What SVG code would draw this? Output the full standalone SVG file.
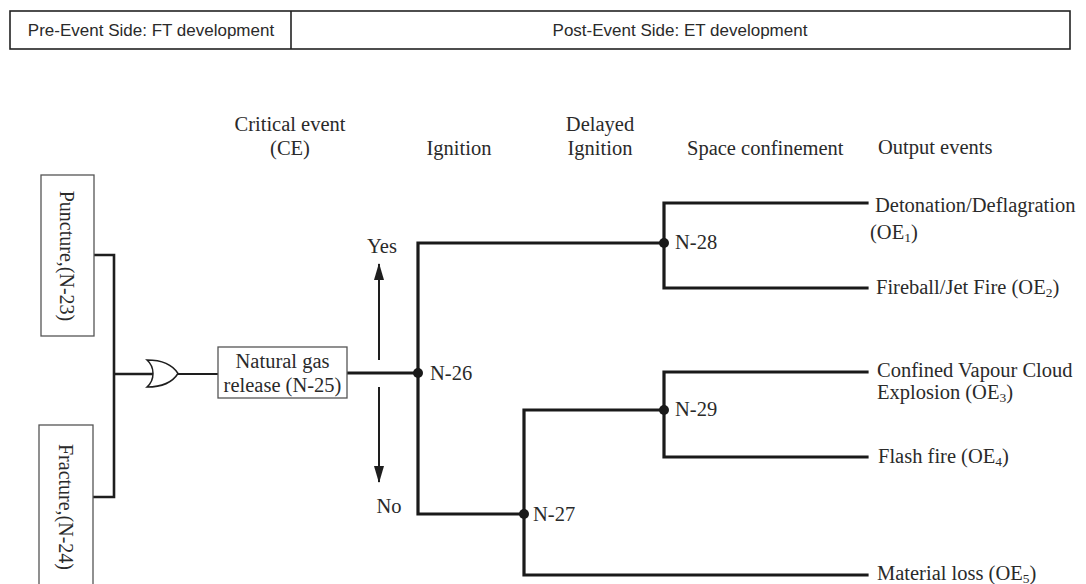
<svg xmlns="http://www.w3.org/2000/svg" width="1086" height="584" viewBox="0 0 1086 584">
  <defs>
    <style>
      .hdr { font-family: "Liberation Sans", Arial, sans-serif; font-size: 17px; fill: #2a2a2a; }
      .t { font-family: "Liberation Serif", "Times New Roman", serif; font-size: 20.5px; fill: #2a2a2a; }
      .sub { font-size: 13.5px; }
      .box { fill: #fff; stroke: #555; stroke-width: 1.3; }
      .frame { fill: none; stroke: #222; stroke-width: 1.6; }
      .link { fill: none; stroke: #1e1e1e; stroke-width: 2.6; }
      .thin { fill: none; stroke: #1e1e1e; stroke-width: 2; }
      .tree { fill: none; stroke: #1a1a1a; stroke-width: 3.2; stroke-linejoin: miter; stroke-linecap: square; }
      .dot { fill: #1a1a1a; }
      .arr { stroke: #1e1e1e; stroke-width: 2; }
    </style>
    <marker id="head" viewBox="0 0 17 10" refX="16" refY="5" markerWidth="17" markerHeight="10" markerUnits="userSpaceOnUse" orient="auto">
      <path d="M0,0 L17,5 L0,10 Z" fill="#1e1e1e"/>
    </marker>
  </defs>

  <!-- header strip -->
  <g id="header">
    <rect class="frame" x="10" y="11" width="1060" height="38"/>
    <line class="frame" x1="291" y1="11" x2="291" y2="49"/>
    <text class="hdr" x="151" y="36" text-anchor="middle">Pre-Event Side: FT development</text>
    <text class="hdr" x="680" y="36" text-anchor="middle">Post-Event Side: ET development</text>
  </g>

  <!-- column headings -->
  <g id="columns" class="t">
    <text x="290" y="131" text-anchor="middle">Critical event</text>
    <text x="290" y="155" text-anchor="middle">(CE)</text>
    <text x="459" y="155" text-anchor="middle">Ignition</text>
    <text x="600" y="131" text-anchor="middle">Delayed</text>
    <text x="600" y="155" text-anchor="middle">Ignition</text>
    <text x="687" y="155">Space confinement</text>
    <text x="878" y="154">Output events</text>
  </g>

  <!-- connectors -->
  <g id="connectors">
    <path class="link" d="M94,255 H114 V497 H93"/>
    <line class="link" x1="114" y1="374" x2="153" y2="374"/>
    <line class="thin" x1="178" y1="374" x2="218" y2="374"/>
    <line class="tree" x1="347" y1="373" x2="418" y2="373"/>
    <!-- ignition branch -->
    <path class="tree" d="M664,243 H418 V514 H524"/>
    <!-- confinement after ignition -->
    <path class="tree" d="M867,203 H664 V288 H867"/>
    <!-- delayed ignition branch -->
    <path class="tree" d="M664,410 H524 V575 H867"/>
    <!-- confinement after delayed ignition -->
    <path class="tree" d="M867,372 H664 V457 H867"/>
    <!-- yes / no arrows -->
    <line class="arr" x1="379" y1="360" x2="379" y2="264" marker-end="url(#head)"/>
    <line class="arr" x1="379" y1="387" x2="379" y2="482" marker-end="url(#head)"/>
  </g>

  <g id="or-gate">
    <path d="M147,360 C160,360 172,364 178,373.5 C172,383 160,387 147,387 C155,380 155,367 147,360 Z" fill="#fff" stroke="#1e1e1e" stroke-width="1.5"/>
  </g>

  <g id="n23">
    <rect class="box" x="41" y="175" width="53" height="161"/>
    <text class="t" transform="translate(67,256) rotate(90)" text-anchor="middle" dominant-baseline="central" style="font-size:20px">Puncture,(N-23)</text>
  </g>

  <g id="n24">
    <rect class="box" x="39" y="425" width="54" height="170"/>
    <text class="t" transform="translate(66,507) rotate(90)" text-anchor="middle" dominant-baseline="central" style="font-size:20px">Fracture,(N-24)</text>
  </g>

  <g id="n25">
    <rect class="box" x="218" y="347" width="129" height="51"/>
    <text class="t" x="282.5" y="368" text-anchor="middle">Natural gas</text>
    <text class="t" x="282.5" y="392" text-anchor="middle">release (N-25)</text>
  </g>

  <g id="n26">
    <circle class="dot" cx="418" cy="373" r="5"/>
    <text class="t" x="430" y="380">N-26</text>
    <text class="t" x="382" y="253" text-anchor="middle">Yes</text>
    <text class="t" x="389" y="513" text-anchor="middle">No</text>
  </g>

  <g id="n27">
    <circle class="dot" cx="524" cy="514" r="5"/>
    <text class="t" x="533" y="521">N-27</text>
  </g>

  <g id="n28">
    <circle class="dot" cx="664" cy="243" r="5"/>
    <text class="t" x="675" y="249">N-28</text>
  </g>

  <g id="n29">
    <circle class="dot" cx="664" cy="410" r="5"/>
    <text class="t" x="675" y="416">N-29</text>
  </g>

  <g id="oe1" class="t">
    <text x="875" y="212">Detonation/Deflagration</text>
    <text x="870" y="239">(OE<tspan class="sub" dy="3">1</tspan><tspan dy="-3">)</tspan></text>
  </g>
  <g id="oe2" class="t">
    <text x="876" y="294">Fireball/Jet Fire (OE<tspan class="sub" dy="3">2</tspan><tspan dy="-3">)</tspan></text>
  </g>
  <g id="oe3" class="t">
    <text x="877" y="377">Confined Vapour Cloud</text>
    <text x="877" y="399">Explosion (OE<tspan class="sub" dy="3">3</tspan><tspan dy="-3">)</tspan></text>
  </g>
  <g id="oe4" class="t">
    <text x="878" y="463">Flash fire (OE<tspan class="sub" dy="3">4</tspan><tspan dy="-3">)</tspan></text>
  </g>
  <g id="oe5" class="t">
    <text x="877" y="580">Material loss (OE<tspan class="sub" dy="3">5</tspan><tspan dy="-3">)</tspan></text>
  </g>
</svg>
